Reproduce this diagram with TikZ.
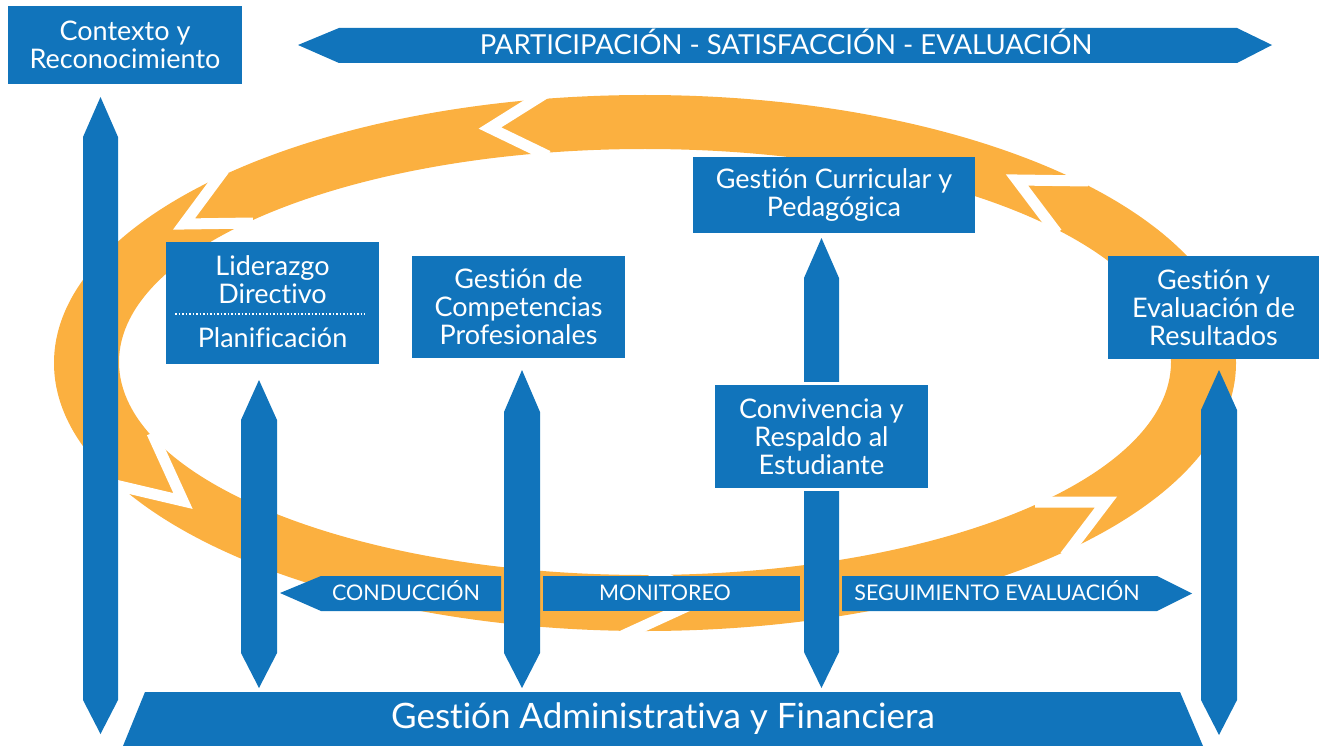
\documentclass[tikz,border=0pt]{standalone}
\usepackage{fontspec}
\setmainfont{Lato}[Ligatures=NoCommon]
\definecolor{blu}{HTML}{1174BB}
\definecolor{ora}{HTML}{FBB040}
\begin{document}
\begin{tikzpicture}[x=1pt,y=-1pt,
  box/.style={fill=blu, text=white, inner sep=0pt, align=center, font=\fontsize{27}{28}\selectfont},
  boxtext/.style={text=white, inner sep=0pt, align=center, font=\fontsize{27}{28}\selectfont},
  gapline/.style={draw=white, line width=11pt, line join=miter, miter limit=10},
  blueshape/.style={fill=blu},
  barlabel/.style={text=white, inner sep=0pt, anchor=base, font=\fontsize{21.5}{24}\selectfont},
]
\useasboundingbox (0,0) rectangle (1319,746);
% ring
\fill[ora, even odd rule] (645,363) ellipse [x radius=591pt, y radius=268pt]
  (645,362) ellipse [x radius=526pt, y radius=213pt];
% chevron gaps
\draw[gapline] (549,91) -- (490,128) -- (548,156);
\draw[gapline] (224,170) -- (184,224) -- (253,223);
\draw[gapline] (152,433) -- (183,501) -- (115,485);
\draw[gapline] (622,636) -- (705,598) -- (650,570);
\draw[gapline] (1065,556) -- (1106,502) -- (1035,502);
\draw[gapline] (1088,181) -- (1017,180) -- (1057,233);
% top double arrow
\fill[blueshape] (298,45) -- (339,28) -- (1237,28) -- (1272,45) -- (1237,63) -- (339,63) -- cycle;
\node[barlabel, font=\fontsize{27.5}{30}\selectfont] (top) at (786,55) {PARTICIPACIÓN - SATISFACCIÓN - EVALUACIÓN};
% vertical double arrows
\fill[blueshape] (83,137) -- (100.5,97) -- (118,137) -- (118,700) -- (100.5,734) -- (83,700) -- cycle;
\fill[blueshape] (241,420) -- (259,380) -- (277,420) -- (277,653) -- (259,688) -- (241,653) -- cycle;
\fill[blueshape] (504,412) -- (522,370) -- (540,412) -- (540,653) -- (522,688) -- (504,653) -- cycle;
\fill[blueshape] (804,278) -- (821.5,238) -- (839,278) -- (839,652) -- (821.5,688) -- (804,652) -- cycle;
\fill[blueshape] (1201,410) -- (1219,370) -- (1237,410) -- (1237,700) -- (1219,735) -- (1201,700) -- cycle;
% middle bar
\fill[blueshape] (280,593) -- (321,576) -- (501,576) -- (501,611) -- (321,611) -- cycle;
\fill[blueshape] (543,576) rectangle (800,611);
\fill[blueshape] (842,576) -- (1157,576) -- (1192,593.5) -- (1157,611) -- (842,611) -- cycle;
\node[barlabel] (cond) at (406,600.5) {CONDUCCIÓN};
\node[barlabel] (moni) at (665,600.5) {MONITOREO};
\node[barlabel] (segu) at (997,600.5) {SEGUIMIENTO EVALUACIÓN};
% bottom trapezoid
\fill[blueshape] (123,746) -- (145,692) -- (1180,692) -- (1203,746) -- cycle;
\node[barlabel, font=\fontsize{35}{38}\selectfont] (adm) at (663,728) {Gestión Administrativa y Financiera};
% boxes
\node[box, minimum width=234pt, minimum height=78pt] (ctx) at (125,45) {Contexto y\\Reconocimiento};
\node[box, minimum width=213pt, minimum height=122pt] (lid) at (272.5,303) {};
\node[boxtext] (lidt) at (272.5,280) {Liderazgo\\Directivo};
\node[boxtext] (plan) at (272.5,338) {Planificación};
\draw[white, line width=1.2pt, dash pattern=on 1.5pt off 2pt] (175,314) -- (365,314);
\node[box, minimum width=213pt, minimum height=102pt] (comp) at (518.5,307) {Gestión de\\Competencias\\Profesionales};
\node[box, minimum width=282pt, minimum height=76pt] (curr) at (834,195) {Gestión Curricular y\\Pedagógica};
\node[box, minimum width=211pt, minimum height=103pt] (res) at (1213.5,307.5) {Gestión y\\Evaluación de\\Resultados};
\node[box, draw=white, line width=3pt, minimum width=216pt, minimum height=106pt] (conv) at (821.5,436.5) {Convivencia y\\Respaldo al\\Estudiante};
\end{tikzpicture}
\end{document}
